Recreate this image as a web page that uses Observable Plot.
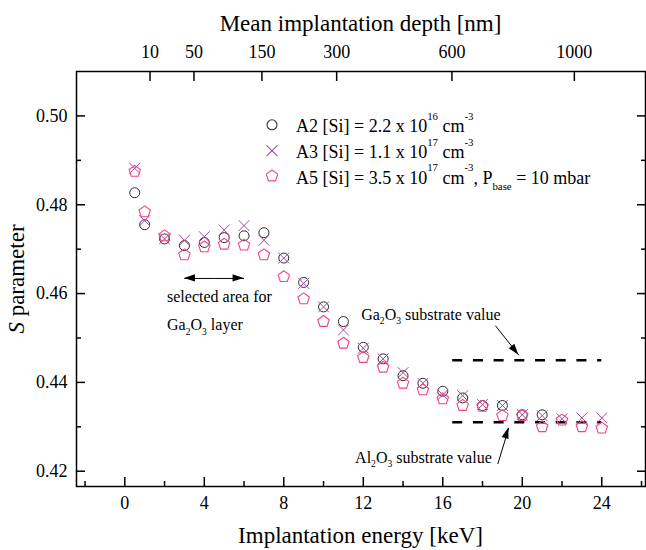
<!DOCTYPE html>
<html>
<head>
<meta charset="utf-8">
<script src="https://cdn.jsdelivr.net/npm/d3@7"></script>
<script src="https://cdn.jsdelivr.net/npm/@observablehq/plot@0.6"></script>
<style>
  html, body { margin: 0; padding: 0; background: #fff; }
  #chart svg { display: block; }
  #chart svg, #chart svg text, #chart svg tspan { font-family: "Liberation Serif", "DejaVu Serif", serif !important; }
</style>
</head>
<body>
<div id="chart"></div>
<script>
// ---------------- data ----------------
const energyA2 = [0.5, 1, 2, 3, 4, 5, 6, 7, 8, 9, 10, 11, 12, 13, 14, 15, 16, 17, 18, 19, 20, 21];
const sA2 = [0.4827, 0.4755, 0.4723, 0.4708, 0.4715, 0.4726, 0.4730, 0.4737, 0.4680, 0.4625, 0.4570,
             0.4537, 0.4479, 0.4453, 0.4415, 0.4398, 0.4380, 0.4365, 0.4348, 0.4348, 0.4327, 0.4327];
const energyA3 = [0.5, 1, 2, 3, 4, 5, 6, 7, 8, 9, 10, 11, 12, 13, 14, 15, 16, 17, 18, 19, 20, 21, 22, 23, 24];
const sA3 = [0.4882, 0.4764, 0.4723, 0.4720, 0.4728, 0.4743, 0.4753, 0.4720, 0.4680, 0.4623, 0.4570,
             0.4518, 0.4477, 0.4453, 0.4422, 0.4398, 0.4372, 0.4370, 0.4350, 0.4348, 0.4327, 0.4325,
             0.4318, 0.4320, 0.4320];
const energyA5 = [0.5, 1, 2, 3, 4, 5, 6, 7, 8, 9, 10, 11, 12, 13, 14, 15, 16, 17, 18, 19, 20, 21, 22, 23, 24];
const sA5 = [0.4875, 0.4784, 0.4730, 0.4687, 0.4705, 0.4711, 0.4709, 0.4687, 0.4638, 0.4588, 0.4537,
             0.4488, 0.4456, 0.4434, 0.4398, 0.4383, 0.4363, 0.4348, 0.4346, 0.4325, 0.4325, 0.4300,
             0.4315, 0.4300, 0.4297];

const seriesNames = ["A2", "A3", "A5"];

const xMajorTicks = [0, 4, 8, 12, 16, 20, 24];
const xMinorTicks = [-2, 2, 6, 10, 14, 18, 22, 26];
const yMajorTicks = [0.42, 0.44, 0.46, 0.48, 0.50];
const yMinorTicks = [0.43, 0.45, 0.47, 0.49];
const depthTickEnergies = [1.27, 3.48, 6.90, 10.66, 16.46, 22.62];
const depthTickLabels = ["10", "50", "150", "300", "600", "1000"];

const substrateValues = [0.445, 0.431];      // Ga2O3, Al2O3 substrate S values
const substrateRange = [16.5, 24];           // keV extent of the dashed reference lines

const arrowX1 = [4.5, 4.5, 18.65, 18.77];
const arrowY1 = [0.4634, 0.4634, 0.45276, 0.42164];
const arrowX2 = [3.0, 6.0, 19.83, 19.32];
const arrowY2 = [0.4634, 0.4634, 0.44612, 0.42974];

// annotation anchors (data coords)
const noteX = [2.15, 2.15, 11.92, 18.49];
const noteY = [0.45800, 0.45163, 0.45404, 0.42178];

// ---------------- build ----------------
const FONT = "'Liberation Serif', 'DejaVu Serif', serif";
const C_A2 = "#2b2b2b", C_A3 = "#a2479f", C_A5 = "#f2457f";

const rowsA2 = energyA2.map((e, i) => ({e, s: sA2[i]}));
const rowsA3 = energyA3.map((e, i) => ({e, s: sA3[i]}));
const rowsA5 = energyA5.map((e, i) => ({e, s: sA5[i]}));
const arrows = arrowX1.map((x1, i) => ({x1, y1: arrowY1[i], x2: arrowX2[i], y2: arrowY2[i]}));

const pentagon = {
  draw(context, size) {
    const r = Math.sqrt(size / Math.PI);
    for (let i = 0; i < 5; i++) {
      const a = -Math.PI / 2 + i * 2 * Math.PI / 5;
      const px = r * Math.cos(a), py = r * Math.sin(a);
      if (i) context.lineTo(px, py); else context.moveTo(px, py);
    }
    context.closePath();
  }
};

const plot = Plot.plot({
  width: 646,
  height: 550,
  marginLeft: 76,
  marginRight: 1,
  marginTop: 71,
  marginBottom: 64,
  style: {fontFamily: FONT, fontSize: "18px", background: "#fff", color: "#000"},
  x: {domain: [-2.43, 26.2]},
  y: {domain: [0.41656, 0.51]},
  marks: [
    Plot.ruleY(substrateValues, {y: d => d, x1: () => substrateRange[0], x2: () => substrateRange[1],
      stroke: "#000", strokeWidth: 2.5, strokeDasharray: "10,10.7"}),
    Plot.link(arrows, {x1: "x1", y1: "y1", x2: "x2", y2: "y2", stroke: "#000", strokeWidth: 1}),
    Plot.dot(rowsA2, {x: "e", y: "s", symbol: "circle", r: 5, stroke: C_A2, strokeWidth: 1, fill: "none"}),
    Plot.dot(rowsA3, {x: "e", y: "s", symbol: "times", r: 5, stroke: C_A3, strokeWidth: 1}),
    Plot.dot(rowsA5, {x: "e", y: "s", symbol: pentagon, r: 6, stroke: C_A5, strokeWidth: 1.1, fill: "none"}),
    Plot.axisX({anchor: "bottom", ticks: xMajorTicks, tickSize: -9, tickFormat: () => "", label: null, strokeWidth: 1.5}),
    Plot.axisX({anchor: "bottom", ticks: xMinorTicks, tickSize: -5, tickFormat: () => "", label: null, strokeWidth: 1.5}),
    Plot.axisX({anchor: "bottom", ticks: xMajorTicks, tickSize: 0, tickPadding: 10, tickFormat: d => String(d), label: null, fontSize: 18}),
    Plot.axisX({anchor: "top", ticks: depthTickEnergies, tickSize: -9, tickFormat: () => "", label: null, strokeWidth: 1.5}),
    Plot.axisX({anchor: "top", ticks: depthTickEnergies, tickSize: 0, tickPadding: 14,
      tickFormat: d => depthTickLabels[depthTickEnergies.indexOf(d)], label: null, fontSize: 18}),
    Plot.axisY({anchor: "left", ticks: yMajorTicks, tickSize: -9, tickFormat: () => "", label: null, strokeWidth: 1.5}),
    Plot.axisY({anchor: "left", ticks: yMinorTicks, tickSize: -5, tickFormat: () => "", label: null, strokeWidth: 1.5}),
    Plot.axisY({anchor: "left", ticks: yMajorTicks, tickSize: 0, tickPadding: 9, tickFormat: d3.format(".2f"), label: null, fontSize: 18}),
    Plot.axisY({anchor: "right", ticks: yMajorTicks, tickSize: -9, tickFormat: () => "", label: null, strokeWidth: 1.5}),
    Plot.axisY({anchor: "right", ticks: yMinorTicks, tickSize: -5, tickFormat: () => "", label: null, strokeWidth: 1.5}),
    Plot.frame({stroke: "#000", strokeWidth: 1.5})
  ]
});

document.getElementById("chart").appendChild(plot);

// ---------------- decorations using the plot's scales ----------------
const sx = plot.scale("x"), sy = plot.scale("y");
const svg = d3.select(plot);
const g = svg.append("g").attr("font-family", FONT).attr("fill", "#000");

arrows.forEach(a => {
  const X1 = sx.apply(a.x1), Y1 = sy.apply(a.y1), X2 = sx.apply(a.x2), Y2 = sy.apply(a.y2);
  const len = Math.hypot(X2 - X1, Y2 - Y1), ux = (X2 - X1) / len, uy = (Y2 - Y1) / len;
  const L = 11, W = 3.6;
  const bx = X2 - L * ux, by = Y2 - L * uy;
  g.append("path")
    .attr("d", `M${X2},${Y2}L${bx - W * uy},${by + W * ux}L${bx + W * uy},${by - W * ux}Z`)
    .attr("fill", "#000");
});

function rich(parent, x, y, parts, size, anchor = "start", extra = {}) {
  const t = parent.append("text")
    .attr("x", x).attr("y", y)
    .attr("font-size", size)
    .attr("text-anchor", anchor)
    .style("white-space", "pre");
  for (const k in extra) t.attr(k, extra[k]);
  let shift = 0;
  for (const p of parts) {
    const target = p.sub ? size * p.sub : p.sup ? -size * p.sup : 0;
    const s = t.append("tspan").attr("dy", target - shift).text(p.t);
    if (p.sub || p.sup) s.attr("font-size", size * 0.6);
    if (p.italic) s.attr("font-style", "italic");
    shift = target;
  }
  return t;
}

rich(g, sx.apply(noteX[0]), sy.apply(noteY[0]), [{t: "selected area for"}], 16);
rich(g, sx.apply(noteX[1]), sy.apply(noteY[1]),
  [{t: "Ga"}, {t: "2", sub: 0.27}, {t: "O"}, {t: "3", sub: 0.27}, {t: " layer"}], 16);
rich(g, sx.apply(noteX[2]), sy.apply(noteY[2]),
  [{t: "Ga"}, {t: "2", sub: 0.27}, {t: "O"}, {t: "3", sub: 0.27}, {t: " substrate value"}], 16);
rich(g, sx.apply(noteX[3]), sy.apply(noteY[3]),
  [{t: "Al"}, {t: "2", sub: 0.27}, {t: "O"}, {t: "3", sub: 0.27}, {t: " substrate value"}], 16, "end");

rich(g, 360.5, 31, [{t: "Mean implantation depth [nm]"}], 23, "middle");
rich(g, 360.5, 543, [{t: "Implantation energy [keV]"}], 23, "middle");
rich(g, 0, 0, [{t: "S", italic: true}, {t: " parameter"}], 23, "middle", {transform: "translate(24,279) rotate(-90)"});

const legendRows = [
  {sym: d3.symbolCircle, color: C_A2, r: 5, parts: [
    {t: seriesNames[0] + " [Si] = 2.2 x 10"}, {t: "16", sup: 0.7}, {t: " cm"}, {t: "-3", sup: 0.7}]},
  {sym: d3.symbolTimes, color: C_A3, r: 5, parts: [
    {t: seriesNames[1] + " [Si] = 1.1 x 10"}, {t: "17", sup: 0.7}, {t: " cm"}, {t: "-3", sup: 0.7}]},
  {sym: pentagon, color: C_A5, r: 6, parts: [
    {t: seriesNames[2] + " [Si] = 3.5 x 10"}, {t: "17", sup: 0.7}, {t: " cm"}, {t: "-3", sup: 0.7},
    {t: ", P"}, {t: "base", sub: 0.38}, {t: " = 10 mbar"}]}
];
const legendX = 272, legendTextX = 296, legendBase = [132.3, 158.3, 183.5];
legendRows.forEach((row, i) => {
  g.append("path")
    .attr("d", d3.symbol(row.sym, Math.PI * row.r * row.r)())
    .attr("transform", `translate(${legendX},${legendBase[i] - 7.5})`)
    .attr("fill", "none").attr("stroke", row.color).attr("stroke-width", 1.1);
  rich(g, legendTextX, legendBase[i], row.parts, 18);
});
</script>
</body>
</html>
